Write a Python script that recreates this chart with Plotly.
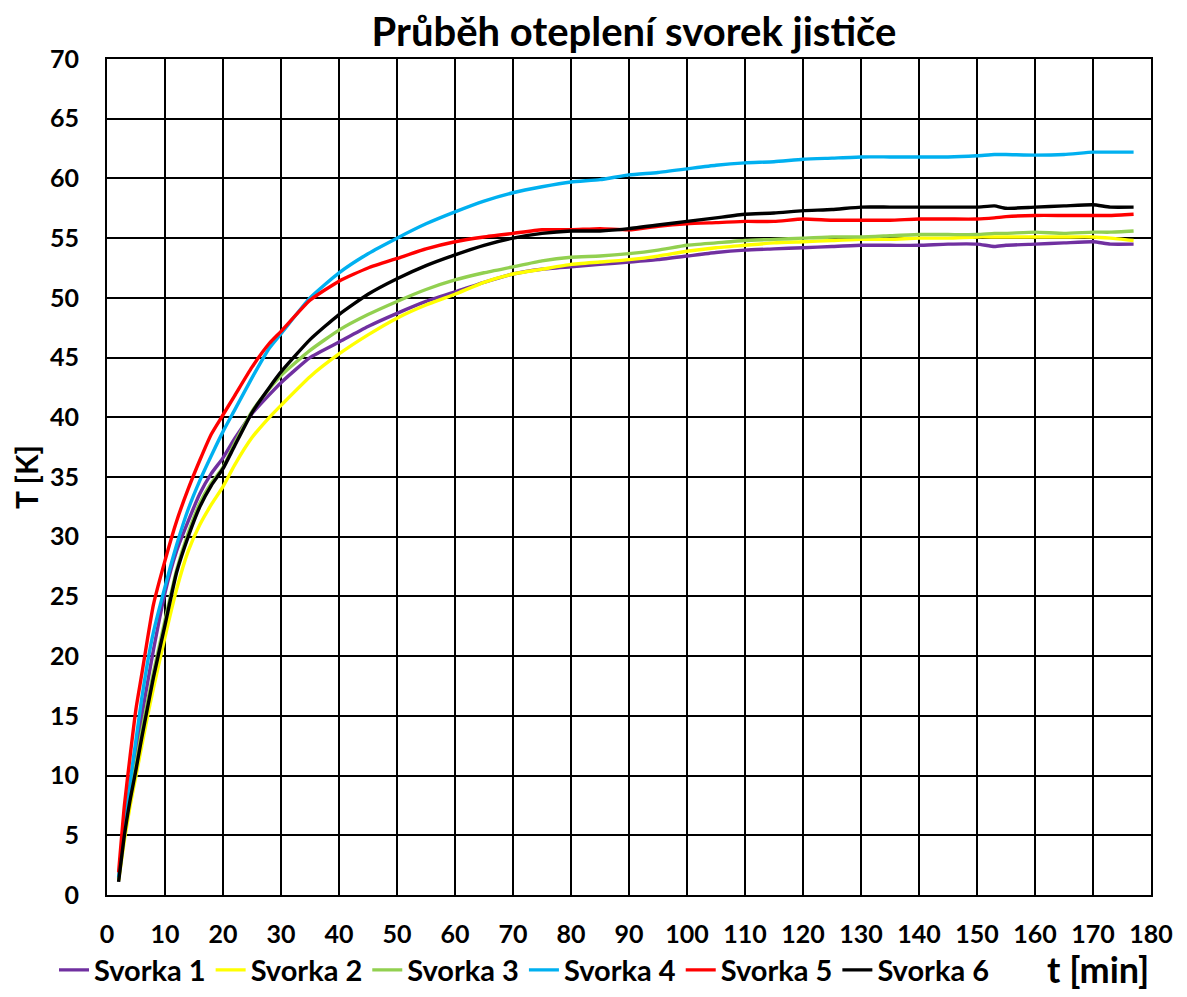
import plotly.graph_objects as go

t_min = [2, 3, 4, 5, 6, 7, 8, 10, 12, 14, 16, 18, 20, 22, 25, 28, 30, 35, 40, 45, 50, 55, 60, 65,
         70, 75, 80, 85, 90, 95, 100, 105, 110, 115, 120, 125, 130, 135, 140, 145, 150, 153, 155,
         160, 165, 170, 173, 177]

svorka1 = [1.4, 5.3, 9.0, 12.0, 15.0, 17.8, 20.5, 25.3, 28.8, 31.3, 33.6, 35.3, 36.6, 38.2, 40.3, 41.9,
           42.9, 45.0, 46.3, 47.6, 48.7, 49.7, 50.5, 51.3, 52.0, 52.4, 52.6, 52.8, 53.0, 53.2, 53.5,
           53.8, 54.0, 54.1, 54.2, 54.3, 54.4, 54.4, 54.4, 54.5, 54.5, 54.3, 54.4, 54.5, 54.6, 54.7,
           54.5, 54.5]
svorka2 = [1.2, 4.6, 7.5, 10.0, 12.5, 15.0, 17.3, 21.6, 25.6, 28.8, 31.0, 32.7, 34.2, 36.0, 38.3, 40.0,
           41.0, 43.4, 45.3, 46.9, 48.3, 49.4, 50.3, 51.3, 52.0, 52.4, 52.8, 53.0, 53.2, 53.5, 53.9,
           54.2, 54.4, 54.6, 54.7, 54.8, 54.9, 54.9, 55.0, 55.0, 55.1, 55.1, 55.1, 55.1, 55.1, 55.1,
           55.0, 54.8]
svorka3 = [1.3, 5.2, 8.5, 11.0, 13.7, 16.2, 18.6, 23.0, 27.2, 30.3, 32.8, 34.5, 35.8, 37.8, 40.5, 42.4,
           43.5, 45.6, 47.3, 48.6, 49.7, 50.7, 51.5, 52.1, 52.6, 53.1, 53.4, 53.5, 53.7, 54.0, 54.4,
           54.6, 54.8, 54.9, 55.0, 55.1, 55.1, 55.2, 55.3, 55.3, 55.3, 55.4, 55.4, 55.5, 55.4, 55.5,
           55.5, 55.6]
svorka4 = [1.5, 5.5, 9.5, 13.0, 16.5, 19.5, 22.0, 25.8, 29.3, 32.3, 34.7, 36.8, 38.8, 40.6, 43.3, 45.8,
           47.0, 50.0, 52.1, 53.7, 55.0, 56.2, 57.2, 58.1, 58.8, 59.3, 59.7, 59.9, 60.3, 60.5, 60.8,
           61.1, 61.3, 61.4, 61.6, 61.7, 61.8, 61.8, 61.8, 61.8, 61.9, 62.0, 62.0, 61.95, 62.0, 62.2,
           62.2, 62.2]
svorka5 = [1.9, 7.5, 11.7, 15.6, 18.5, 21.5, 24.3, 28.0, 31.3, 34.0, 36.4, 38.6, 40.2, 41.8, 44.2, 46.2,
           47.2, 49.8, 51.4, 52.5, 53.3, 54.1, 54.7, 55.1, 55.4, 55.7, 55.7, 55.8, 55.7, 56.0, 56.2,
           56.3, 56.4, 56.4, 56.6, 56.5, 56.5, 56.5, 56.6, 56.6, 56.6, 56.7, 56.8, 56.9, 56.9, 56.9,
           56.9, 57.0]
svorka6 = [1.1, 5.0, 8.0, 10.5, 13.2, 15.7, 18.2, 22.6, 27.0, 30.0, 32.5, 34.3, 35.7, 37.6, 40.4, 42.5,
           43.8, 46.5, 48.6, 50.3, 51.6, 52.7, 53.6, 54.4, 55.0, 55.4, 55.6, 55.6, 55.8, 56.1, 56.4,
           56.7, 57.0, 57.1, 57.3, 57.4, 57.6, 57.6, 57.6, 57.6, 57.6, 57.7, 57.5, 57.6, 57.7, 57.8,
           57.6, 57.6]

names = ["Svorka 1", "Svorka 2", "Svorka 3", "Svorka 4", "Svorka 5", "Svorka 6"]
series = [svorka1, svorka2, svorka3, svorka4, svorka5, svorka6]
colors = ["#7030A0", "#FFFF00", "#92D050", "#00B0F0", "#FF0000", "#000000"]

FONT = "Lato"
W, H = 1179, 989  # page body adds an 8px margin on top/left

fig = go.Figure()
for name, ys, c in zip(names, series, colors):
    fig.add_trace(go.Scatter(x=t_min, y=ys, name=name, mode="lines",
                             line=dict(color=c, width=3.4, shape="spline", smoothing=0.5)))

fig.update_layout(
    width=W, height=H,
    margin=dict(l=99, r=36, t=51, b=102, autoexpand=False),
    paper_bgcolor="white", plot_bgcolor="white",
    font=dict(family=FONT, color="black"),
    title=dict(text="<b>Průběh oteplení svorek jističe</b>", x=626 / W, xref="container",
               xanchor="center", y=1 - 24 / H, yref="container", yanchor="middle",
               font=dict(size=40, family=FONT, color="black")),
    showlegend=True,
    legend=dict(orientation="h", x=46 / W, xref="container", xanchor="left",
                y=1 - 962 / H, yref="container", yanchor="middle",
                font=dict(size=29, family=FONT, color="black", weight="bold"),
                itemwidth=30, tracegroupgap=0, traceorder="normal"),
    xaxis=dict(range=[0, 180], dtick=10, tick0=0, showgrid=True, gridcolor="black", gridwidth=1.6,
               showline=True, linecolor="black", linewidth=2, mirror=True, zeroline=False,
               ticks="", ticklabelstandoff=16, automargin=False,
               tickfont=dict(size=25, family=FONT, color="black", weight="bold")),
    yaxis=dict(range=[0, 70], dtick=5, tick0=0, showgrid=True, gridcolor="black", gridwidth=1.6,
               showline=True, linecolor="black", linewidth=2, mirror=True, zeroline=False,
               ticks="", ticklabelstandoff=21, automargin=False,
               tickfont=dict(size=25, family=FONT, color="black", weight="bold"),
               title=dict(text="<b>T [K]</b>", font=dict(size=30, family=FONT, color="black"),
                          standoff=12)),
)

fig.add_annotation(text="<b>t [min]</b>", xref="paper", yref="paper", x=1.0, y=-0.089,
                   xanchor="right", yanchor="middle", showarrow=False,
                   font=dict(size=36, family=FONT, color="black"))

fig.write_html("out.html")
